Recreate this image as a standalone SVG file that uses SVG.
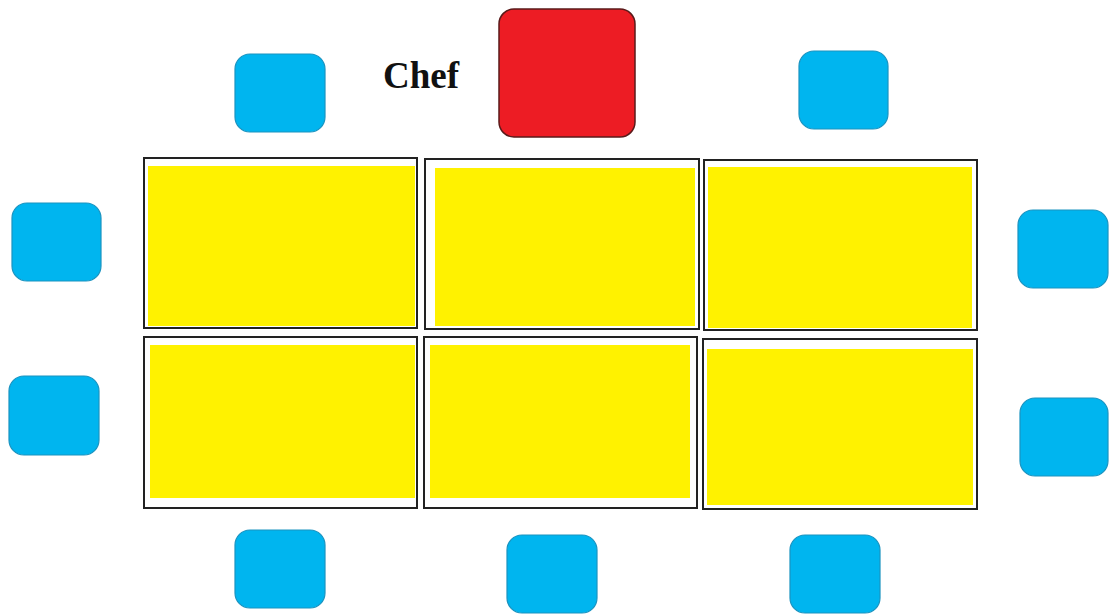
<svg xmlns="http://www.w3.org/2000/svg" width="1109" height="614" viewBox="0 0 1109 614">
<style>
.seat{fill:#00b5ef;stroke:#1a93c0;stroke-width:1.2}
.frame{fill:#ffffff;stroke:#222;stroke-width:2}
.top{fill:#fff200}
.chef{fill:#ed1c24;stroke:#5a1a1a;stroke-width:1.5}
.lbl{font-family:"Liberation Serif","Times New Roman",serif;font-weight:bold;font-size:37px;fill:#111}
</style>
<rect width="1109" height="614" fill="#ffffff"/>
<g id="chef"><rect class="chef" x="499" y="9" width="136" height="128" rx="15"/></g>
<g id="chef-label"><text class="lbl" x="383" y="88">Chef</text></g>
<g id="table-1"><rect class="frame" x="144" y="158" width="273" height="170"/><rect class="top" x="148" y="166" width="267" height="160"/></g>
<g id="table-2"><rect class="frame" x="425" y="159" width="274" height="170"/><rect class="top" x="435" y="168" width="260" height="158"/></g>
<g id="table-3"><rect class="frame" x="704" y="160" width="273" height="170"/><rect class="top" x="708" y="167" width="264" height="161"/></g>
<g id="table-4"><rect class="frame" x="144" y="337" width="273" height="171"/><rect class="top" x="150" y="345" width="265" height="153"/></g>
<g id="table-5"><rect class="frame" x="424" y="337" width="273" height="171"/><rect class="top" x="430" y="345" width="260" height="153"/></g>
<g id="table-6"><rect class="frame" x="703" y="339" width="274" height="170"/><rect class="top" x="707" y="349" width="266" height="156"/></g>
<g id="seat-1"><rect class="seat" x="235" y="54" width="90" height="78" rx="15"/></g>
<g id="seat-2"><rect class="seat" x="799" y="51" width="89" height="78" rx="15"/></g>
<g id="seat-3"><rect class="seat" x="12" y="203" width="89" height="78" rx="15"/></g>
<g id="seat-4"><rect class="seat" x="9" y="376" width="90" height="79" rx="15"/></g>
<g id="seat-5"><rect class="seat" x="1018" y="210" width="90" height="78" rx="15"/></g>
<g id="seat-6"><rect class="seat" x="1020" y="398" width="88" height="78" rx="15"/></g>
<g id="seat-7"><rect class="seat" x="235" y="530" width="90" height="78" rx="15"/></g>
<g id="seat-8"><rect class="seat" x="507" y="535" width="90" height="78" rx="15"/></g>
<g id="seat-9"><rect class="seat" x="790" y="535" width="90" height="78" rx="15"/></g>
<g id="connectors"></g>
</svg>
